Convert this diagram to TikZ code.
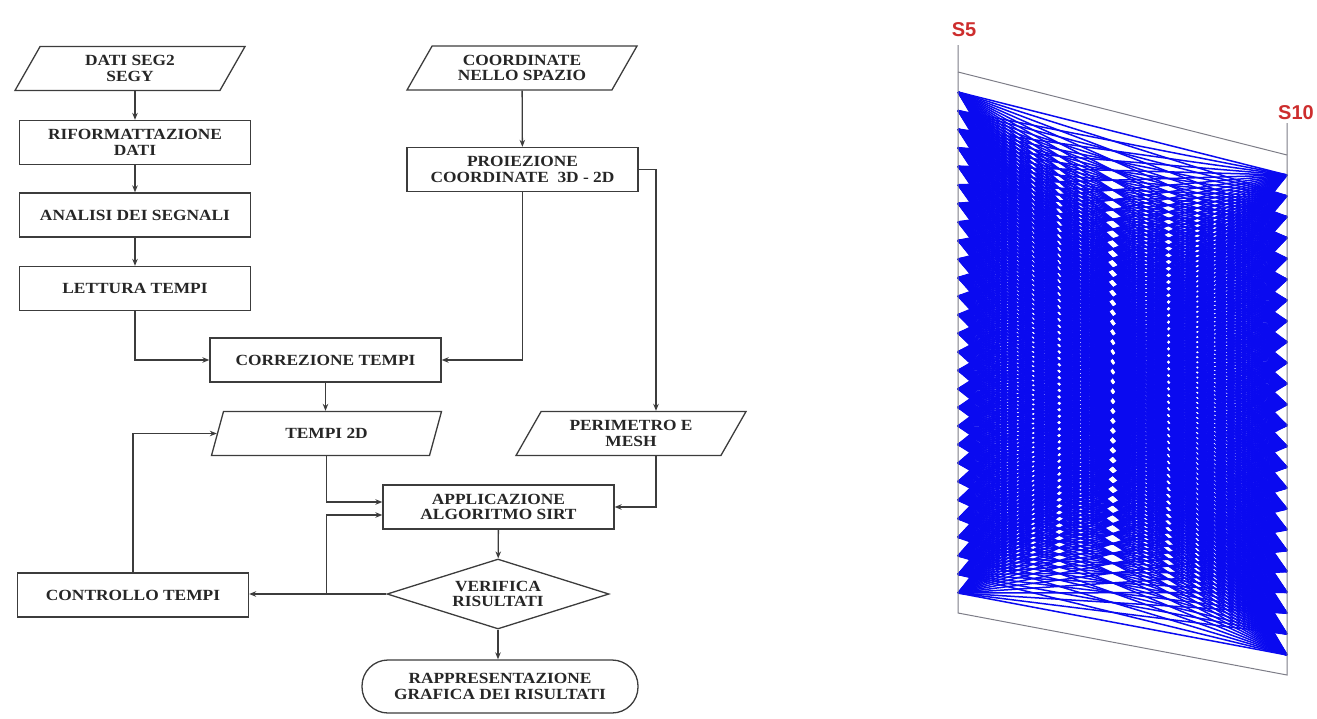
\documentclass[tikz,border=0pt]{standalone}
\usepackage{fontspec}
\setmainfont{Liberation Serif}[FakeStretch=1.12]
\newfontfamily\etichettafont{Liberation Sans}
\usetikzlibrary{shapes.geometric,arrows.meta,calc}

\definecolor{linea}{RGB}{60,60,60}
\definecolor{raggio}{RGB}{10,10,240}
\definecolor{sensore}{RGB}{205,45,45}
\definecolor{bordo}{RGB}{125,125,135}

\tikzset{
	blocco/.style={draw=linea, line width=1.3pt, minimum width=231pt, minimum height=44pt, inner sep=2pt, align=center, font=\fontsize{15.5}{15.5}\selectfont\bfseries, text=black!85},
	dato/.style={blocco, trapezium, trapezium left angle=50, trapezium right angle=130, trapezium stretches body, minimum width=230pt},
	scelta/.style={blocco, diamond, aspect=3.2, minimum width=222pt, minimum height=70pt, inner sep=0pt},
	fine/.style={blocco, rounded corners=26pt, minimum width=276pt, minimum height=53pt},
	freccia/.style={draw=linea, line width=1.3pt, -{Stealth[length=7pt,width=5.5pt]}},
	etichetta/.style={text=sensore, font=\etichettafont\fontsize{20}{20}\selectfont\bfseries, inner sep=0pt},
}

\begin{document}
\begin{tikzpicture}[x=1pt,y=-1pt]
	%%%%% START %%%%%
	\useasboundingbox (0,0) rectangle (1317,718);
	
	\node[dato] (dati) at (130,68.5) {DATI SEG2\\SEGY};
	\node[blocco] (rif) at (135,142.5) {RIFORMATTAZIONE\\DATI};
	\node[blocco] (anal) at (135,215) {ANALISI DEI SEGNALI};
	\node[blocco] (lett) at (135,288.5) {LETTURA TEMPI};
	\node[blocco] (corr) at (325.5,360) {CORREZIONE TEMPI};
	\node[dato] (tempi) at (326.5,433.5) {TEMPI 2D};
	\node[blocco] (contr) at (133,595) {CONTROLLO TEMPI};
	
	\node[dato] (coord) at (522,68) {COORDINATE\\NELLO SPAZIO};
	\node[blocco] (proi) at (522.5,169.5) {PROIEZIONE\\COORDINATE \ 3D - 2D};
	\node[dato] (perim) at (631,433.5) {PERIMETRO E\\MESH};
	\node[blocco] (appl) at (498.5,507) {APPLICAZIONE\\ALGORITMO SIRT};
	\node[scelta] (verif) at (498,594) {VERIFICA\\RISULTATI};
	\node[fine] (rappr) at (500,686.5) {RAPPRESENTAZIONE\\GRAFICA DEI RISULTATI};
	
	\draw[freccia] (rif.north |- dati.south) -- (rif.north);
	\draw[freccia] (rif) -- (anal);
	\draw[freccia] (anal) -- (lett);
	\draw[freccia] (lett.south) |- (corr.west);
	\draw[freccia] (coord) -- (proi);
	\draw[freccia] (proi.south) |- (corr.east);
	\draw[freccia] (proi.east) -| ($(perim.north)+(25,0)$);
	\draw[freccia] (corr.south) -- (corr.south |- tempi.north);
	\draw[freccia] (tempi.south) |- ($(appl.west)+(0,-5)$);
	\draw[freccia] ($(perim.south)+(25,0)$) |- (appl.east);
	\draw[freccia] (appl) -- (verif);
	\draw[freccia] (verif.west) -- (verif.west -| contr.east);
	\draw[freccia] (tempi.south |- verif.west) |- ($(appl.west)+(0,8)$);
	\draw[freccia] (contr.north) |- (tempi.west);
	\draw[freccia] (verif.south) -- (verif.south |- rappr.north);
	
	% raggi tra i sensori
	\foreach \i in {0,...,27}{
		\foreach \j in {0,...,23}{
			\draw[raggio, line width=1.5pt] (958,{92+\i*501/27}) -- (1287,{175+\j*480/23});
		}
	}
	
	\draw[bordo, line width=1pt] (958,45) -- (958,613) -- (1287,675) -- (1287,123);
	\draw[bordo, line width=1pt] (958,72) -- (1287,155);
	
	\node[etichetta] (s5) at (964,30) {S5};
	\node[etichetta] (s10) at (1296,113) {S10};
	%%%%% END %%%%%
\end{tikzpicture}
\end{document}
